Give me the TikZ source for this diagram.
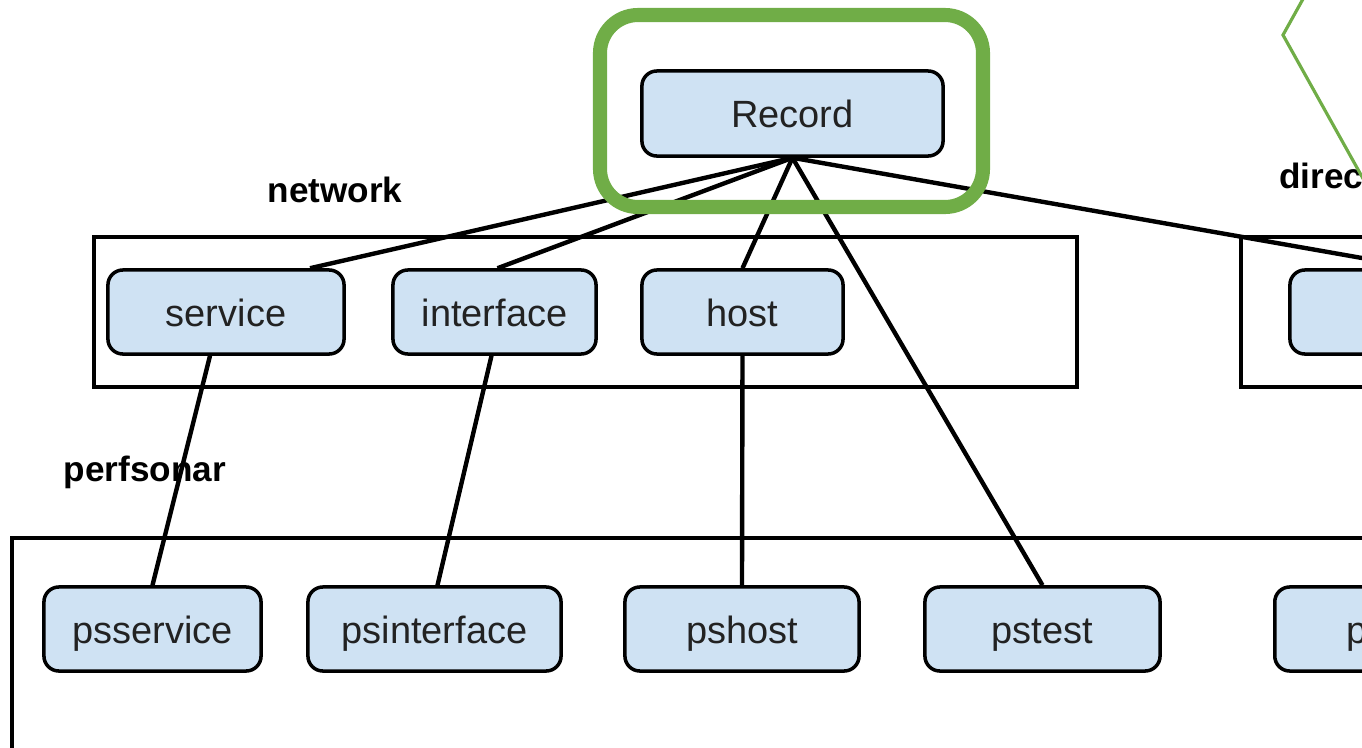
\documentclass[tikz,border=0pt]{standalone}
\usepackage{fontspec}
\setmainfont{Liberation Sans}
\usetikzlibrary{calc}
\definecolor{boxblue}{HTML}{CFE2F3}
\definecolor{markgreen}{HTML}{70AD47}
\definecolor{textgray}{HTML}{222222}

\begin{document}
\begin{tikzpicture}[x=0.01cm, y=-0.01cm,
        entity/.style={draw, line width=1pt, rounded corners=0.15cm, fill=boxblue, text=textgray,
            font=\fontsize{10.8}{13}\selectfont, minimum height=0.84cm, inner sep=0pt,
            text height=0.32cm, text depth=0.04cm},
        group/.style={draw, line width=1.2pt},
        link/.style={line width=1.25pt},
        grouplabel/.style={font=\bfseries\fontsize{10}{12}\selectfont}]
            \useasboundingbox (0,0) rectangle (1362,748);
            \clip (0,0) rectangle (1362,748);
            % group boxes
            \draw[group] (94,237) rectangle (1077,387);
            \draw[group] (1241,237) rectangle (1420,387);
            \draw[group] (12,538) rectangle (1420,800);
            \node[grouplabel] (netlabel) at (335,190) {network};
            \node[grouplabel, anchor=west] (dirlabel) at (1267,176) {direc};
            \node[grouplabel] (pslabel) at (145,472) {perfsonar};
            % nodes
            \node[entity, minimum width=3.01cm, minimum height=0.85cm] (Record) at (792.5,113.5) {Record};
            \foreach \name/\x/\w in {service/226/2.36, interface/494.5/2.03, host/742.5/2.01}
                \node[entity, minimum width=\w cm] (\name) at (\x,312) {\name};
            \node[entity, minimum width=2.6cm] (dirnode) at (1420,312) {};
            \foreach \name/\x/\w in {psservice/152.5/2.17, psinterface/434.5/2.53, pshost/742/2.34, pstest/1042.5/2.35}
                \node[entity, minimum width=\w cm] (\name) at (\x,629) {\name};
            \node[entity, anchor=west, text width=1.6cm, align=left, inner xsep=0.72cm] (psright) at (1273,629) {p};
            % connectors
            \draw[link] (Record.south) -- ([xshift=0.84cm]service.north);
            \draw[link] (Record.south) -- ([xshift=0.03cm]interface.north);
            \draw[link] (Record.south) -- (host.north);
            \draw[link] (Record.south) -- (pstest.north);
            \draw[link] (Record.south) -- (dirnode.north);
            \draw[link] ([xshift=-0.16cm]service.south) -- (psservice.north);
            \draw[link] ([xshift=-0.03cm]interface.south) -- ([xshift=0.03cm]psinterface.north);
            \draw[link] (host.south) -- (pshost.north);
            % highlight
            \draw[markgreen, line width=4pt, rounded corners=0.38cm] (600,15) rectangle (983,207);
            \coordinate (gtop) at (1308,-10);
            \coordinate (gtip) at (1283,35);
            \coordinate (gend) at (1375,200);
            \draw[markgreen, line width=0.9pt] (gtop) -- (gtip) -- (gend);
        \end{tikzpicture}
\end{document}
